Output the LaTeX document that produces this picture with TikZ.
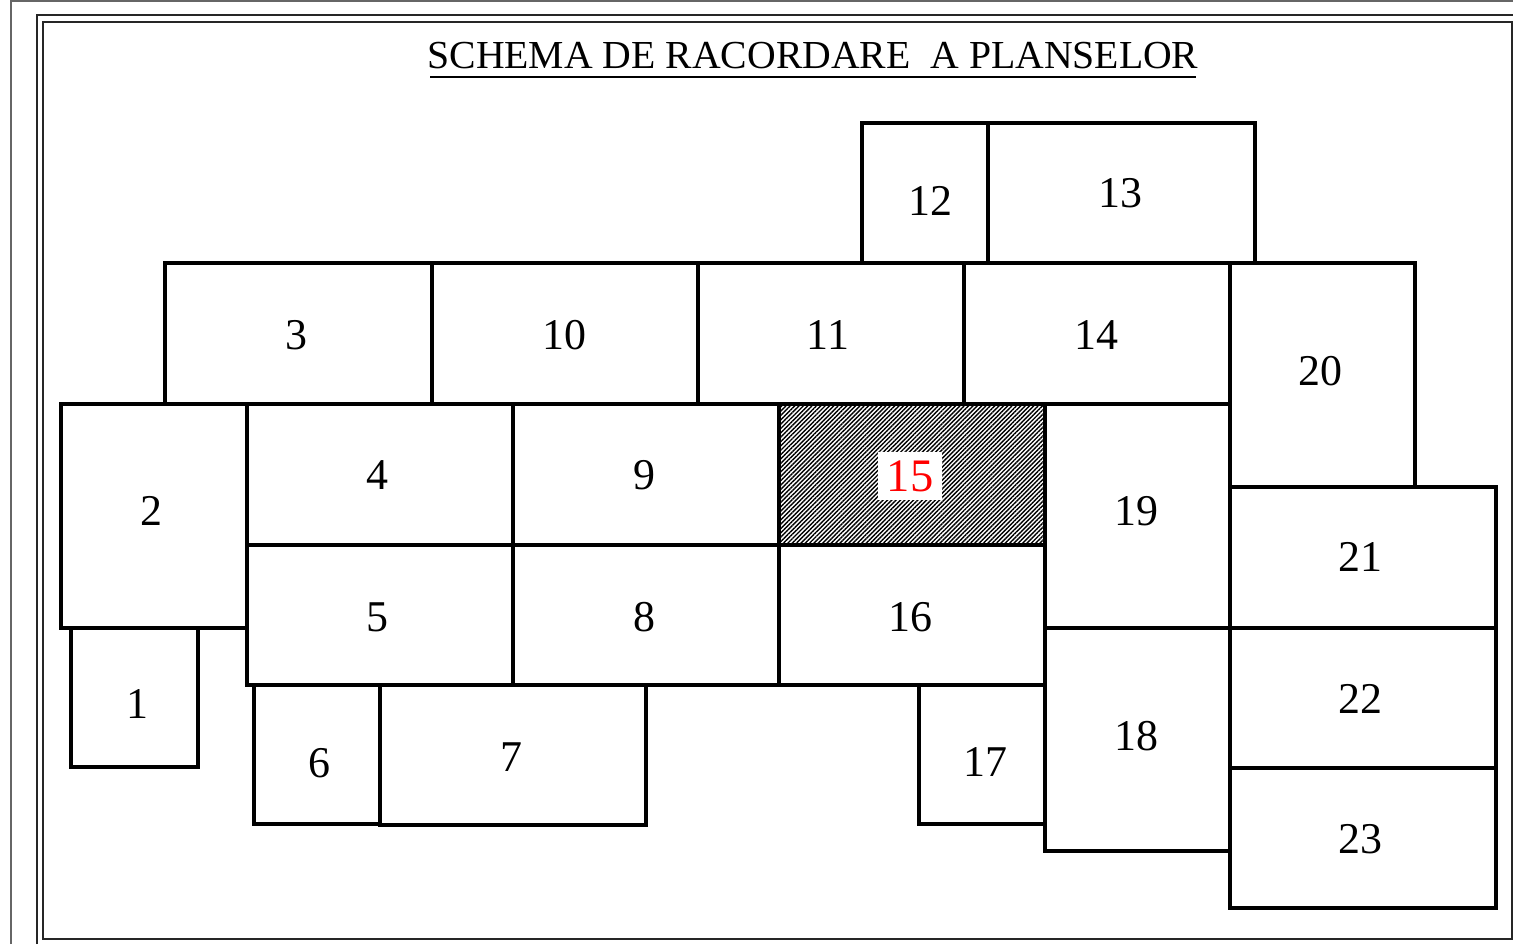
\documentclass[tikz,border=0pt]{standalone}
\usepackage{fontspec}
\setmainfont{Liberation Serif}
\usetikzlibrary{patterns.meta}
\tikzset{
  sheet/.style={line width=1.8pt, line join=miter},
  num/.style={font=\fontsize{25}{28}\selectfont, inner sep=1pt},
  frameline/.style={line width=1pt, draw=black!85}
}
\begin{document}
\begin{tikzpicture}[x=0.02cm, y=-0.02cm]
  \useasboundingbox (0,0) rectangle (1513,944);
  % frame
  \draw[frameline, draw=black!60] (11,944) -- (11,1) -- (1513,1);
  \draw[frameline, line width=1.3pt] (37,944) -- (37,15) -- (1513,15);
  \draw[frameline] (43,22) rectangle (1512,939);
  % title
  \node[font=\fontsize{22.6}{25}\selectfont, inner sep=0pt, anchor=base] (title) at (813,68)
    {SCHEMA DE RACORDARE\ \ A PLANSELOR};
  \draw[line width=1pt] (430,77) -- (1196,77);
  % hatched sheet
  \fill[pattern={Lines[angle=45, distance=1.75pt, line width=0.8pt]}] (779,404) rectangle (1045,545);
  % sheets
  \draw[sheet] (862,123) rectangle (988,263);
  \draw[sheet] (988,123) rectangle (1255,263);
  \draw[sheet] (165,263) rectangle (432,404);
  \draw[sheet] (432,263) rectangle (698,404);
  \draw[sheet] (698,263) rectangle (964,404);
  \draw[sheet] (964,263) rectangle (1230,404);
  \draw[sheet] (1230,263) rectangle (1415,487);
  \draw[sheet] (61,404) rectangle (247,628);
  \draw[sheet] (247,404) rectangle (513,545);
  \draw[sheet] (513,404) rectangle (779,545);
  \draw[sheet] (779,404) rectangle (1045,545);
  \draw[sheet] (1045,404) rectangle (1230,628);
  \draw[sheet] (1230,487) rectangle (1496,628);
  \draw[sheet] (247,545) rectangle (513,685);
  \draw[sheet] (513,545) rectangle (779,685);
  \draw[sheet] (779,545) rectangle (1045,685);
  \draw[sheet] (71,628) rectangle (198,767);
  \draw[sheet] (1045,628) rectangle (1230,851);
  \draw[sheet] (1230,628) rectangle (1496,768);
  \draw[sheet] (1230,768) rectangle (1496,908);
  \draw[sheet] (254,685) rectangle (380,824);
  \draw[sheet] (380,685) rectangle (646,825);
  \draw[sheet] (919,685) rectangle (1045,824);
  % sheet numbers
  \node[num] (n1) at (137,704) {1};
  \node[num] (n2) at (151,511) {2};
  \node[num] (n3) at (296,335) {3};
  \node[num] (n4) at (377,475) {4};
  \node[num] (n5) at (377,617) {5};
  \node[num] (n6) at (319,763) {6};
  \node[num] (n7) at (511,757) {7};
  \node[num] (n8) at (644,617) {8};
  \node[num] (n9) at (644,475) {9};
  \node[num] (n10) at (564,335) {10};
  \node[num] (n11) at (828,335) {11};
  \node[num] (n12) at (930,201) {12};
  \node[num] (n13) at (1120,193) {13};
  \node[num] (n14) at (1096,335) {14};
  \node[num, font=\fontsize{26.5}{29}\selectfont, fill=white, text=red, inner sep=5pt] (n15) at (910,476) {15};
  \node[num] (n16) at (910,617) {16};
  \node[num] (n17) at (985,762) {17};
  \node[num] (n18) at (1136,736) {18};
  \node[num] (n19) at (1136,511) {19};
  \node[num] (n20) at (1320,371) {20};
  \node[num] (n21) at (1360,557) {21};
  \node[num] (n22) at (1360,699) {22};
  \node[num] (n23) at (1360,839) {23};
\end{tikzpicture}
\end{document}
